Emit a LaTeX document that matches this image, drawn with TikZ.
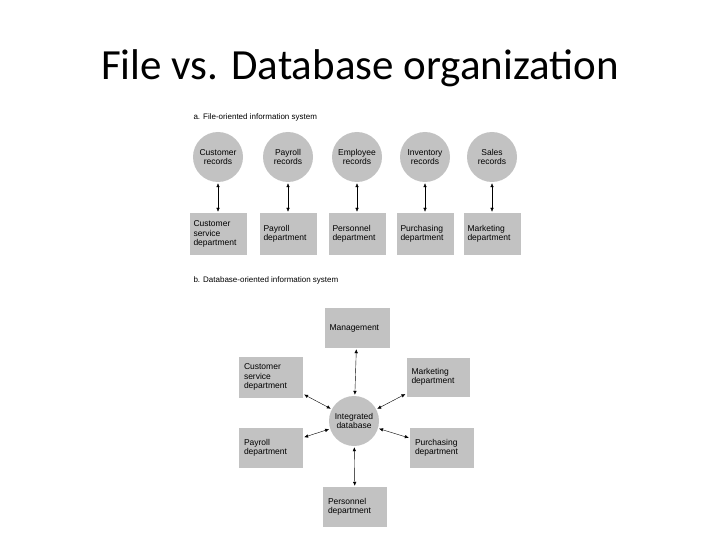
\documentclass[tikz,border=0pt]{standalone}
\usepackage{fontspec}
\setmainfont{Carlito}
\newfontfamily\figfont{Liberation Sans}
\usetikzlibrary{arrows.meta}
\tikzset{
  recfile/.style={circle, fill=black!24, minimum size=50pt, inner sep=0pt, align=center, font=\figfont\fontsize{8.5}{9.5}\selectfont},
  deptbox/.style={rectangle, fill=black!24, minimum width=57pt, minimum height=42pt, inner sep=0pt, align=left, text width=49pt, font=\figfont\fontsize{8.5}{9.5}\selectfont},
  link/.style={{Latex[length=4pt,width=3.5pt]}-{Latex[length=4pt,width=3.5pt]}, thin, shorten <=1pt, shorten >=1pt},
}
\begin{document}
\begin{tikzpicture}[x=1pt, y=-1pt]
  \useasboundingbox (0,0) rectangle (720,540);
  \node (title) at (360,68) {\fontsize{43}{50}\selectfont File vs. Database organization};

  %a. file-oriented
  \node[anchor=west, font=\figfont\fontsize{8}{9}\selectfont] (labela) at (190,117) {a. File-oriented information system};
  \foreach \x/\rec/\dep [count=\i] in {218/Customer\\records/Customer\\service\\department,
      288/Payroll\\records/Payroll\\department,
      357/Employee\\records/Personnel\\department,
      425/Inventory\\records/Purchasing\\department,
      492/Sales\\records/Marketing\\department} {
    \node[recfile] (r\i) at (\x,157) {\rec};
    \node[deptbox] (d\i) at (\x,234) {\dep};
    \draw[link] (r\i) -- (d\i);
  }

  %b. database-oriented
  \node[anchor=west, font=\figfont\fontsize{8}{9}\selectfont] (labelb) at (190,280) {b. Database-oriented information system};
  \node[recfile] (db) at (354,421) {Integrated\\database};
  \node[deptbox, minimum width=65pt, text width=55pt, minimum height=40pt] (mgmt) at (357,328) {Management};
  \node[deptbox, minimum width=64pt, text width=54pt, minimum height=41pt] (cust) at (271,377) {Customer\\service\\department};
  \node[deptbox, minimum width=63pt, text width=53pt, minimum height=39pt] (mkt) at (438,377) {Marketing\\department};
  \node[deptbox, minimum width=64pt, text width=54pt, minimum height=40pt] (pay) at (271,448) {Payroll\\department};
  \node[deptbox, minimum width=64pt, text width=54pt, minimum height=40pt] (pur) at (442,448) {Purchasing\\department};
  \node[deptbox, minimum width=64pt, text width=54pt, minimum height=40pt] (pers) at (355,507) {Personnel\\department};
  \foreach \n in {mgmt,cust,mkt,pay,pur,pers} {
    \draw[link] (db) -- (\n);
  }
\end{tikzpicture}
\end{document}
